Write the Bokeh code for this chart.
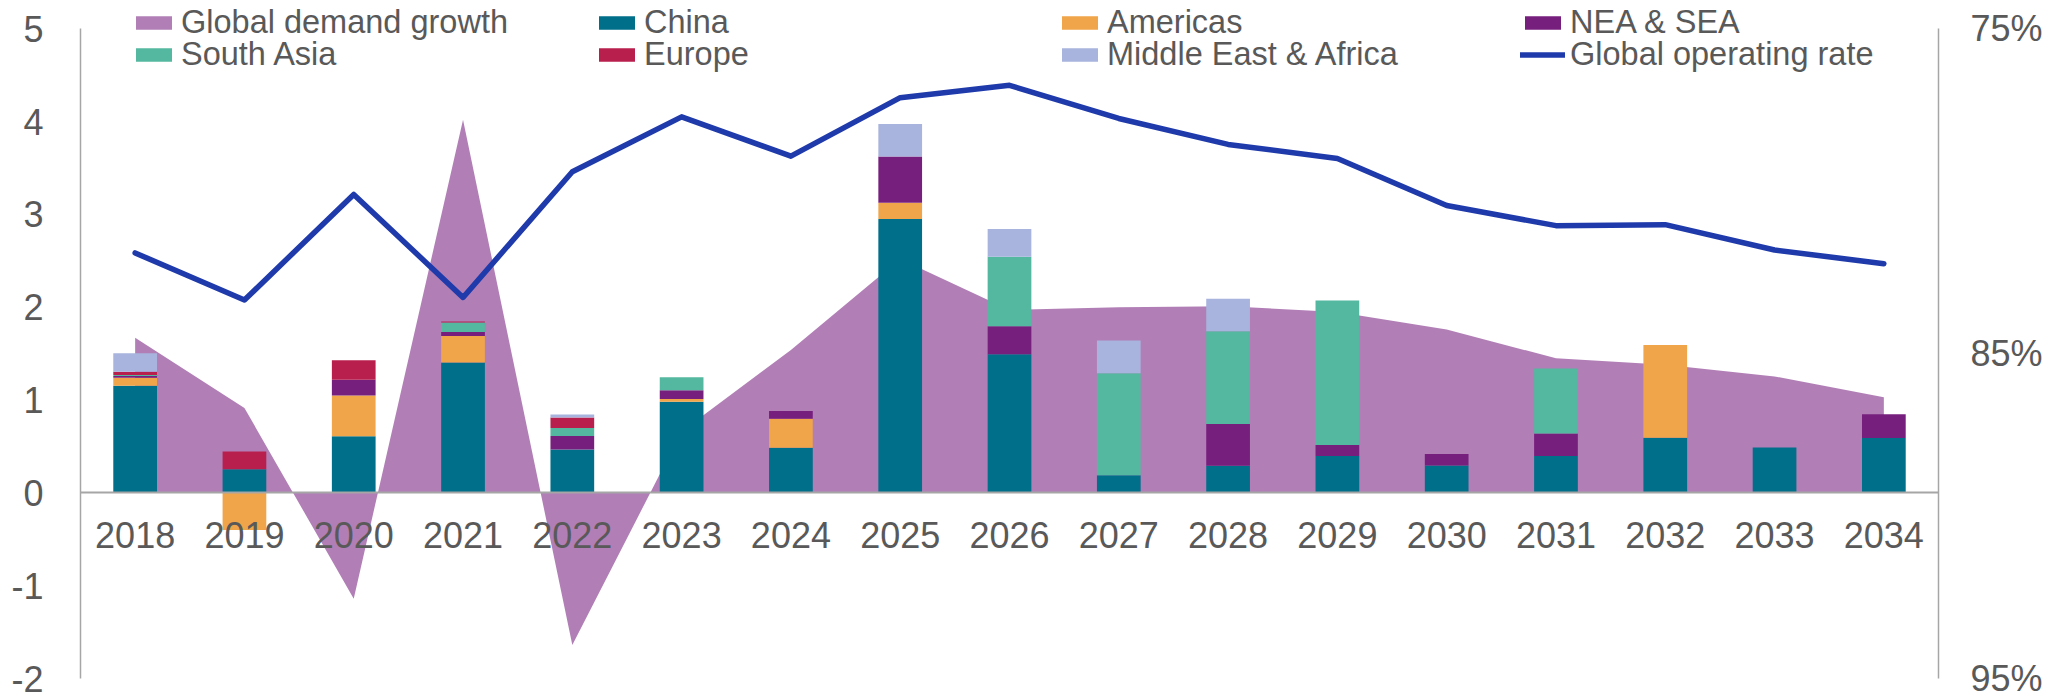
import numpy as np
from bokeh.plotting import figure
from bokeh.models import (Range1d, FactorRange, LinearAxis, FixedTicker, PrintfTickFormatter,
                          Legend, LegendItem, ColumnDataSource)
from bokeh.embed import file_html
from bokeh.resources import INLINE

# ---------------- data ----------------
years = ["2018", "2019", "2020", "2021", "2022", "2023", "2024", "2025", "2026",
         "2027", "2028", "2029", "2030", "2031", "2032", "2033", "2034"]

demand_growth = [1.67, 0.915, -1.14, 4.02, -1.64, 0.66, 1.54, 2.52, 1.97,
                 2.00, 2.01, 1.95, 1.76, 1.45, 1.38, 1.255, 1.03]

china = [1.155, 0.255, 0.61, 1.405, 0.466, 0.983, 0.487, 2.95, 1.494,
         0.19, 0.291, 0.398, 0.294, 0.398, 0.594, 0.49, 0.591]
americas = [0.085, -0.40, 0.44, 0.285, 0.0, 0.029, 0.311, 0.175, 0.0,
            0.0, 0.0, 0.0, 0.0, 0.0, 1.0, 0.0, 0.0]
nea_sea = [0.02, 0.0, 0.17, 0.043, 0.146, 0.093, 0.085, 0.50, 0.30,
           0.0, 0.45, 0.118, 0.126, 0.242, 0.0, 0.0, 0.257]
south_asia = [0.01, 0.0, 0.0, 0.103, 0.086, 0.142, 0.0, 0.0, 0.75,
              1.10, 1.00, 1.556, 0.0, 0.70, 0.0, 0.0, 0.0]
europe = [0.035, 0.19, 0.21, 0.011, 0.114, 0.0, 0.0, 0.0, 0.0,
          0.0, 0.0, 0.0, 0.0, 0.0, 0.0, 0.0, 0.0]
mea = [0.20, 0.0, 0.0, 0.0, 0.032, 0.0, 0.0, 0.35, 0.30,
       0.353, 0.35, 0.0, 0.0, 0.0, 0.0, 0.0, 0.0]

operating_rate = [81.9, 83.35, 80.1, 83.27, 79.4, 77.71, 78.92, 77.12, 76.74,
                  77.76, 78.56, 78.99, 80.44, 81.06, 81.03, 81.81, 82.23]

left_ticks = [-2, -1, 0, 1, 2, 3, 4, 5]
left_tick_labels = ["-2", "-1", "0", "1", "2", "3", "4", "5"]
right_ticks = [75, 85, 95]

series_names = ["China", "Americas", "NEA & SEA", "South Asia", "Europe", "Middle East & Africa"]
series_values = [china, americas, nea_sea, south_asia, europe, mea]
series_colors = ["#006F8A", "#F0A54A", "#771F7D", "#53B89F", "#B91F4D", "#A8B3DE"]

AREA_COLOR = "#B17FB6"
LINE_COLOR = "#1F3AAB"
TEXT = "#595959"
AXIS = "#A6A6A6"
FONT = "Liberation Sans"

# ---------------- figure ----------------
FRAME_H = 678
px_per_unit = (FRAME_H - 28.3) / 7.0
y_top = 5 + 28.3 / px_per_unit
right_top = 75 - (y_top - 5) * 20 / 7.0

p = figure(x_range=FactorRange(factors=years, range_padding=0, factor_padding=0),
           y_range=Range1d(-2, y_top),
           frame_width=1858, frame_height=FRAME_H,
           min_border_left=80, min_border_right=125, min_border_top=0, min_border_bottom=21,
           output_backend="svg", toolbar_location=None)
p.extra_y_ranges = {"right": Range1d(start=95, end=right_top)}
p.outline_line_color = None
p.grid.visible = False
p.background_fill_color = "white"

# area
area = p.varea(x=years, y1=[0] * len(years), y2=demand_growth, fill_color=AREA_COLOR)

# stacked bars (positive and negative stacked separately)
pos = np.zeros(len(years))
neg = np.zeros(len(years))
bar_renderers = {}
for name, vals, col in zip(series_names, series_values, series_colors):
    v = np.array(vals, dtype=float)
    bottom = np.where(v >= 0, pos, neg)
    top = bottom + v
    pos = np.where(v >= 0, pos + v, pos)
    neg = np.where(v < 0, neg + v, neg)
    src = ColumnDataSource(dict(x=years, top=top, bottom=bottom))
    r = p.vbar(x="x", top="top", bottom="bottom", width=0.4, source=src,
               fill_color=col, line_color=None)
    bar_renderers[name] = r

# operating rate line
line = p.line(x=years, y=operating_rate, y_range_name="right", line_color=LINE_COLOR,
              line_width=5.5, line_join="round", line_cap="round")

# axes
xa = p.xaxis[0]
xa.fixed_location = 0
xa.axis_line_color = AXIS
xa.axis_line_width = 2
xa.major_tick_line_color = None
xa.minor_tick_line_color = None
xa.major_label_text_font_size = "36px"
xa.major_label_text_color = TEXT
xa.major_label_text_font = FONT
xa.major_label_standoff = 23

ya = p.yaxis[0]
ya.ticker = FixedTicker(ticks=left_ticks)
ya.major_label_overrides = {t: s for t, s in zip(left_ticks, left_tick_labels)}
ya.bounds = (-2, 5)
ya.axis_line_color = AXIS
ya.axis_line_width = 1.5
ya.major_tick_line_color = None
ya.minor_tick_line_color = None
ya.major_label_text_font_size = "36px"
ya.major_label_text_color = TEXT
ya.major_label_text_font = FONT
ya.major_label_standoff = 31

ra = LinearAxis(y_range_name="right", ticker=FixedTicker(ticks=right_ticks),
                formatter=PrintfTickFormatter(format="%d%%"), bounds=(75, 95))
ra.axis_line_color = AXIS
ra.axis_line_width = 1.5
ra.major_tick_line_color = None
ra.minor_tick_line_color = None
ra.major_label_text_font_size = "36px"
ra.major_label_text_color = TEXT
ra.major_label_text_font = FONT
ra.major_label_standoff = 26
p.add_layout(ra, "right")

# legends (two rows of four)
def make_legend(items, loc):
    lg = Legend(items=items, orientation="horizontal", location=loc,
                glyph_width=45, glyph_height=17, label_standoff=5, label_width=413,
                spacing=0, padding=0, margin=0, border_line_color=None,
                background_fill_alpha=0, label_text_font_size="32.5px",
                label_text_color=TEXT, label_text_font=FONT)
    return lg

row1 = [LegendItem(label="Global demand growth", renderers=[area]),
        LegendItem(label="China", renderers=[bar_renderers["China"]]),
        LegendItem(label="Americas", renderers=[bar_renderers["Americas"]]),
        LegendItem(label="NEA & SEA", renderers=[bar_renderers["NEA & SEA"]])]
row2 = [LegendItem(label="South Asia", renderers=[bar_renderers["South Asia"]]),
        LegendItem(label="Europe", renderers=[bar_renderers["Europe"]]),
        LegendItem(label="Middle East & Africa", renderers=[bar_renderers["Middle East & Africa"]]),
        LegendItem(label="Global operating rate", renderers=[line])]

p.add_layout(make_legend(row1, (51, FRAME_H - 41)))
p.add_layout(make_legend(row2, (51, FRAME_H - 73)))

open("out.html", "w").write(file_html(p, INLINE))
